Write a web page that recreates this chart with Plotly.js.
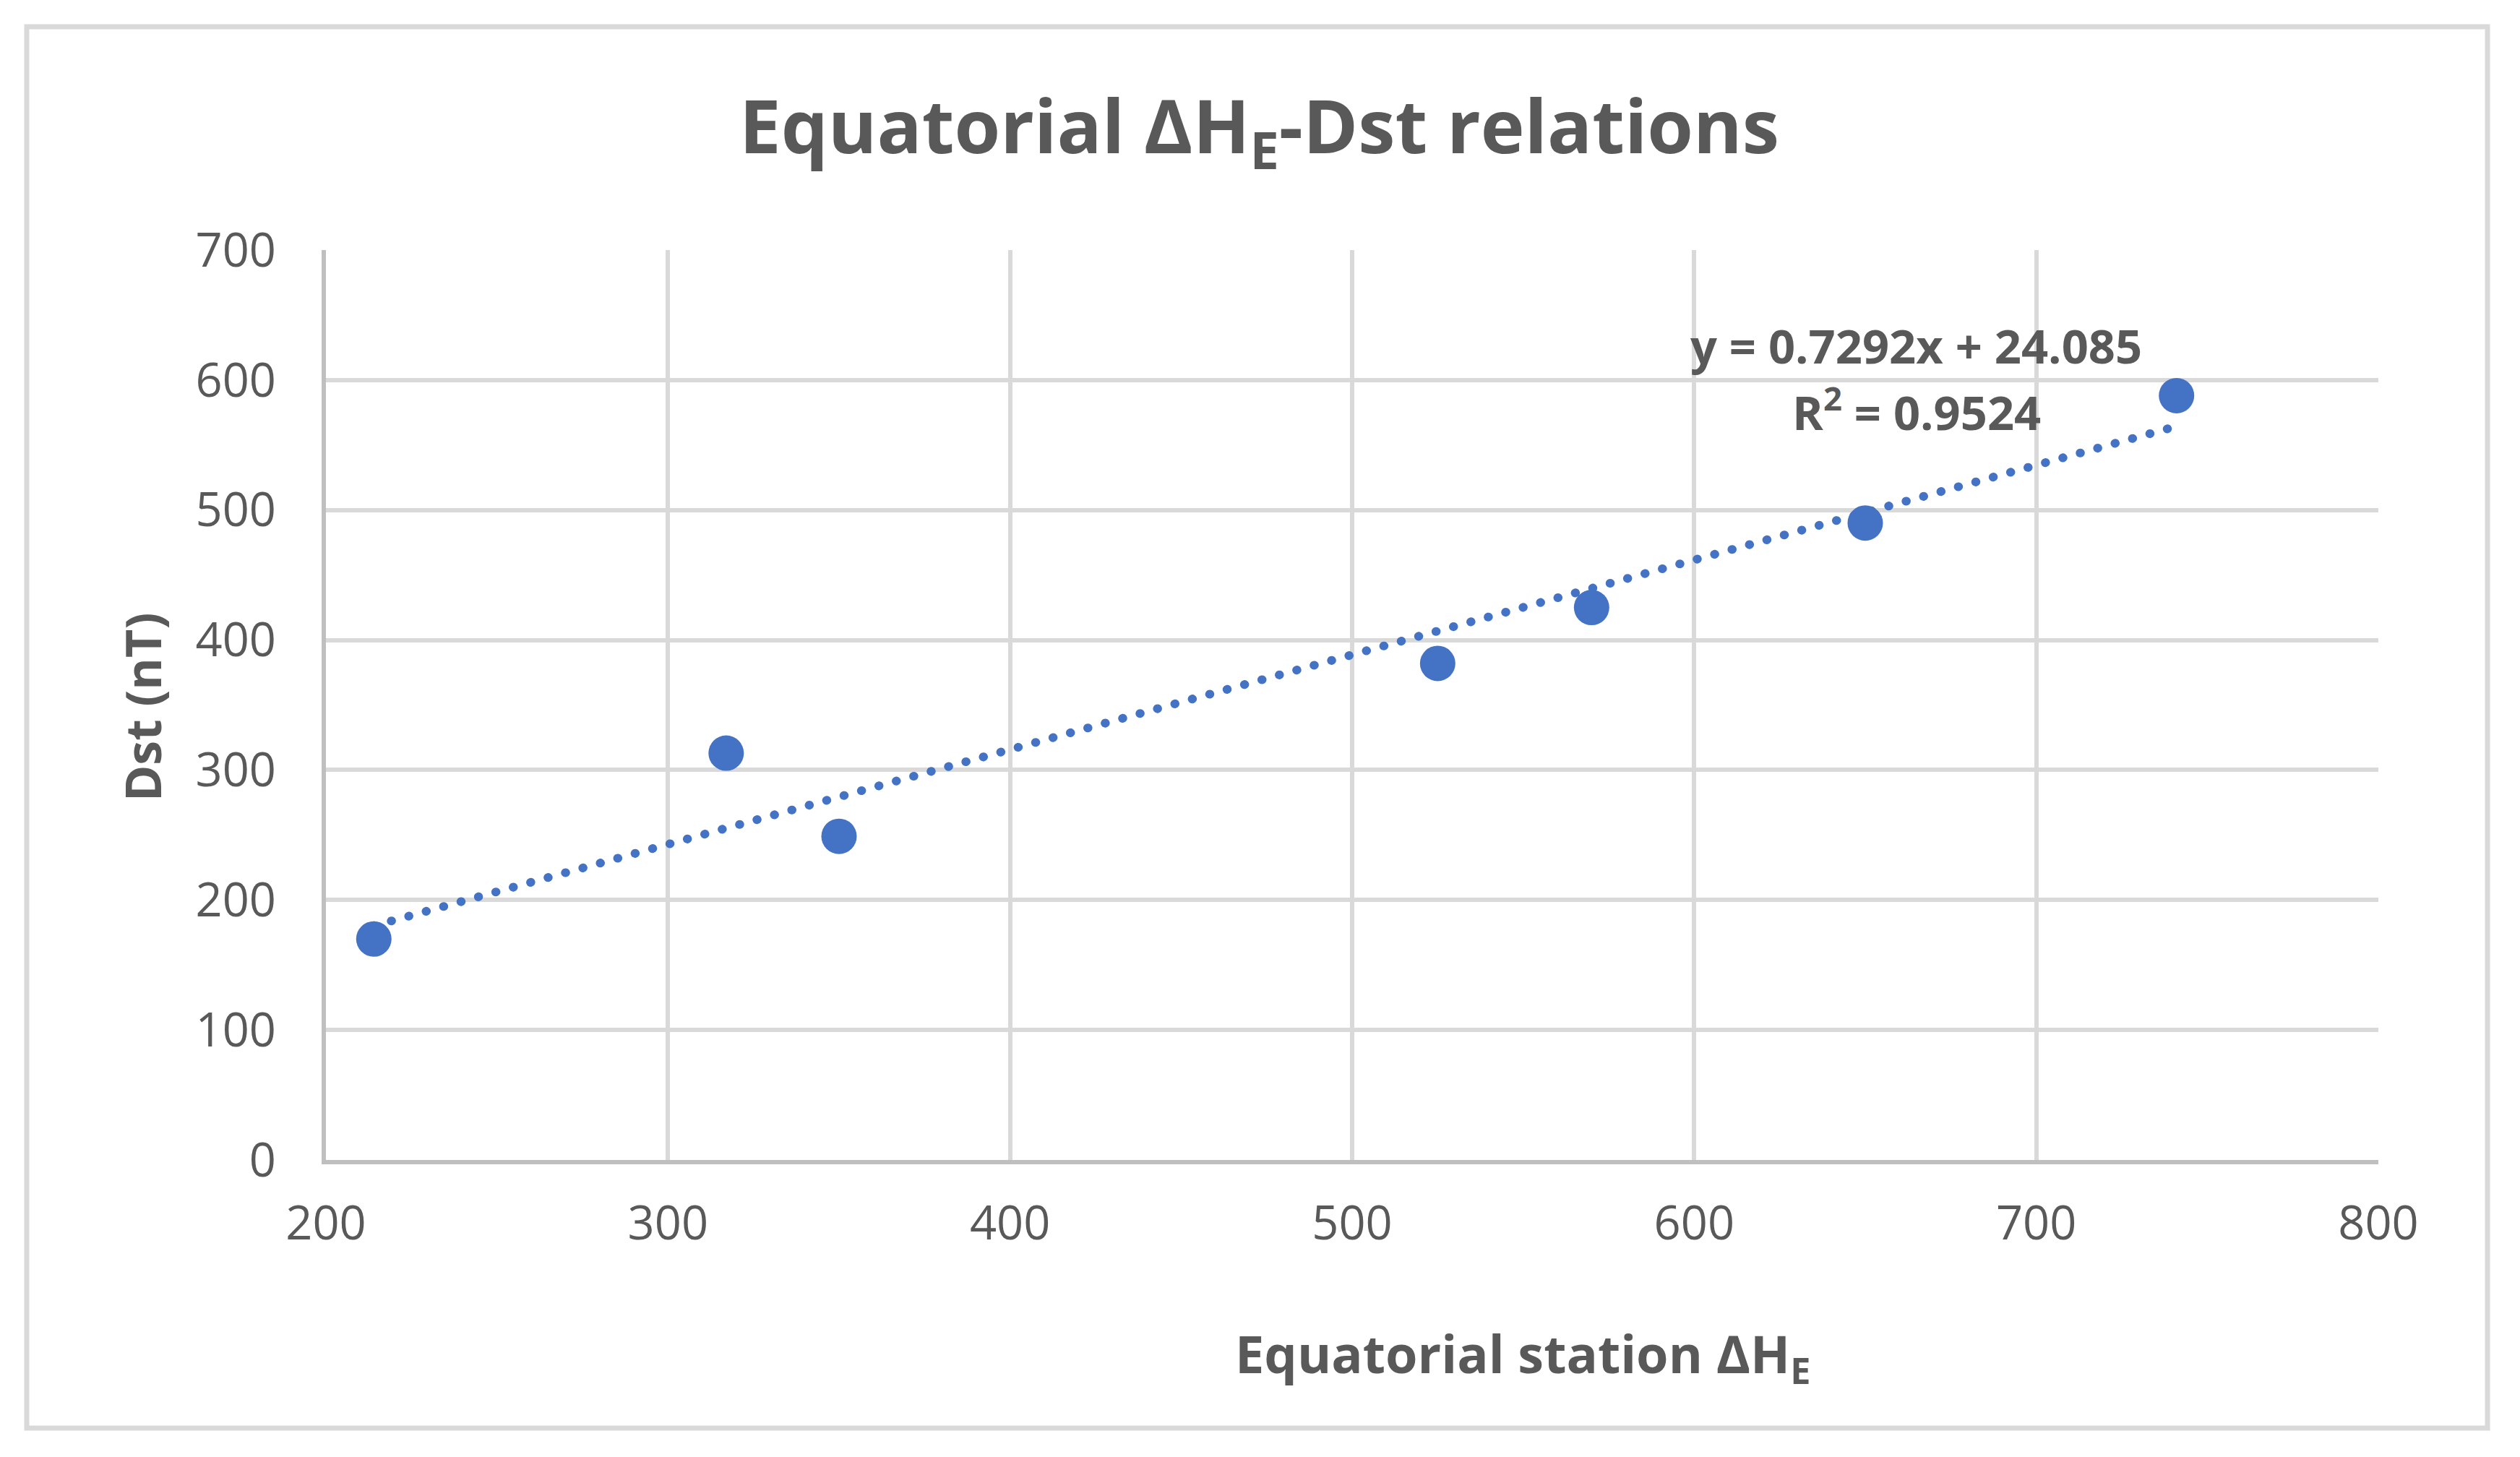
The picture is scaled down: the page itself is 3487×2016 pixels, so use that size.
<!DOCTYPE html>
<html>
<head>
<meta charset="utf-8">
<script src="https://cdn.plot.ly/plotly-3.0.1.min.js"></script>
<style>
  html, body { margin: 0; padding: 0; background: #ffffff; }
  #chart { width: 3487px; height: 2016px; }
  .trend .js-line { stroke-linecap: round; }
</style>
</head>
<body>
<div id="chart"></div>
<script>
// ---- data ----
const equatorialDeltaH = [214, 317, 350, 525, 570, 650, 741];
const dstValues = [170, 313, 249, 382, 425, 490, 588];
const trendSlope = 0.7292;
const trendIntercept = 24.085;
const rSquared = 0.9524;
const xTickValues = [200, 300, 400, 500, 600, 700, 800];
const yTickValues = [0, 100, 200, 300, 400, 500, 600, 700];

const chartTitle = 'Equatorial ΔH<sub>E</sub>-Dst relations';
const xAxisTitle = 'Equatorial station ΔH<sub>E</sub>';
const yAxisTitle = 'Dst (nT)';

// trendline over the data range, from the displayed equation
const trendX = [Math.min(...equatorialDeltaH), Math.max(...equatorialDeltaH)];
const trendY = trendX.map(v => trendSlope * v + trendIntercept);

const textColor = '#595959';
const markerColor = '#4472C4';

const traces = [
  {
    x: trendX, y: trendY, type: 'scatter', mode: 'lines',
    line: { color: markerColor, width: 12, dash: '0.5px,24.5px' },
    hoverinfo: 'skip', showlegend: false
  },
  {
    x: equatorialDeltaH, y: dstValues, type: 'scatter', mode: 'markers',
    marker: { color: markerColor, size: 49, line: { width: 0 } },
    showlegend: false
  }
];

const W = 3487, H = 2016;
const L = 451, R = 3291, T = 346, B = 1605;
const px = v => (v - L) / (R - L);
const py = v => (B - v) / (B - T);

const layout = {
  width: W, height: H,
  margin: { l: L, r: W - R, t: T, b: H - B, pad: 0 },
  paper_bgcolor: '#ffffff', plot_bgcolor: '#ffffff',
  showlegend: false,
  font: { family: 'Open Sans, sans-serif', color: textColor, size: 65 },
  xaxis: {
    range: [200, 800], tickvals: xTickValues, ticktext: xTickValues.map(String),
    showgrid: true, gridcolor: '#D9D9D9', gridwidth: 6,
    showline: true, linecolor: '#BFBFBF', linewidth: 6,
    zeroline: false, ticks: '', ticklabelstandoff: 26,
    tickfont: { family: 'Open Sans, sans-serif', size: 65, color: textColor },
    fixedrange: true
  },
  yaxis: {
    range: [0, 700], tickvals: yTickValues, ticktext: yTickValues.map(String),
    showgrid: true, gridcolor: '#D9D9D9', gridwidth: 6,
    showline: true, linecolor: '#BFBFBF', linewidth: 6,
    zeroline: false, ticks: '', ticklabelstandoff: 50,
    tickfont: { family: 'Open Sans, sans-serif', size: 65, color: textColor },
    fixedrange: true
  },
  shapes: [
    { type: 'rect', xref: 'paper', yref: 'paper',
      x0: px(37), x1: px(3442), y0: py(1976), y1: py(37),
      line: { color: '#D9D9D9', width: 7 }, fillcolor: 'rgba(0,0,0,0)', layer: 'below' }
  ],
  annotations: [
    { text: '<b>' + chartTitle + '</b>', xref: 'paper', yref: 'paper',
      x: px(1742), y: py(178), xanchor: 'center', yanchor: 'middle', showarrow: false,
      font: { family: 'Open Sans, sans-serif', size: 103, color: textColor } },
    { text: '<b>' + xAxisTitle + '</b>', xref: 'paper', yref: 'paper',
      x: px(2107), y: py(1876), xanchor: 'center', yanchor: 'middle', showarrow: false,
      font: { family: 'Open Sans, sans-serif', size: 72, color: textColor } },
    { text: '<b>' + yAxisTitle + '</b>', xref: 'paper', yref: 'paper',
      x: px(196), y: py(978), xanchor: 'center', yanchor: 'middle', showarrow: false,
      textangle: -90,
      font: { family: 'Open Sans, sans-serif', size: 68, color: textColor } },
    { text: '<b>y = ' + trendSlope + 'x + ' + trendIntercept + '</b>', xref: 'paper', yref: 'paper',
      x: px(2651), y: py(478), xanchor: 'center', yanchor: 'middle', showarrow: false,
      font: { family: 'Open Sans, sans-serif', size: 65, color: textColor } },
    { text: '<b>R<sup>2</sup> = ' + rSquared + '</b>', xref: 'paper', yref: 'paper',
      x: px(2652), y: py(566), xanchor: 'center', yanchor: 'middle', showarrow: false,
      font: { family: 'Open Sans, sans-serif', size: 65, color: textColor } }
  ]
};

Plotly.newPlot('chart', traces, layout, { displayModeBar: false, staticPlot: true }).then(() => {
  document.querySelectorAll('.scatterlayer .trace').forEach((g, i) => { if (i === 0) g.classList.add('trend'); });
});
</script>
</body>
</html>
